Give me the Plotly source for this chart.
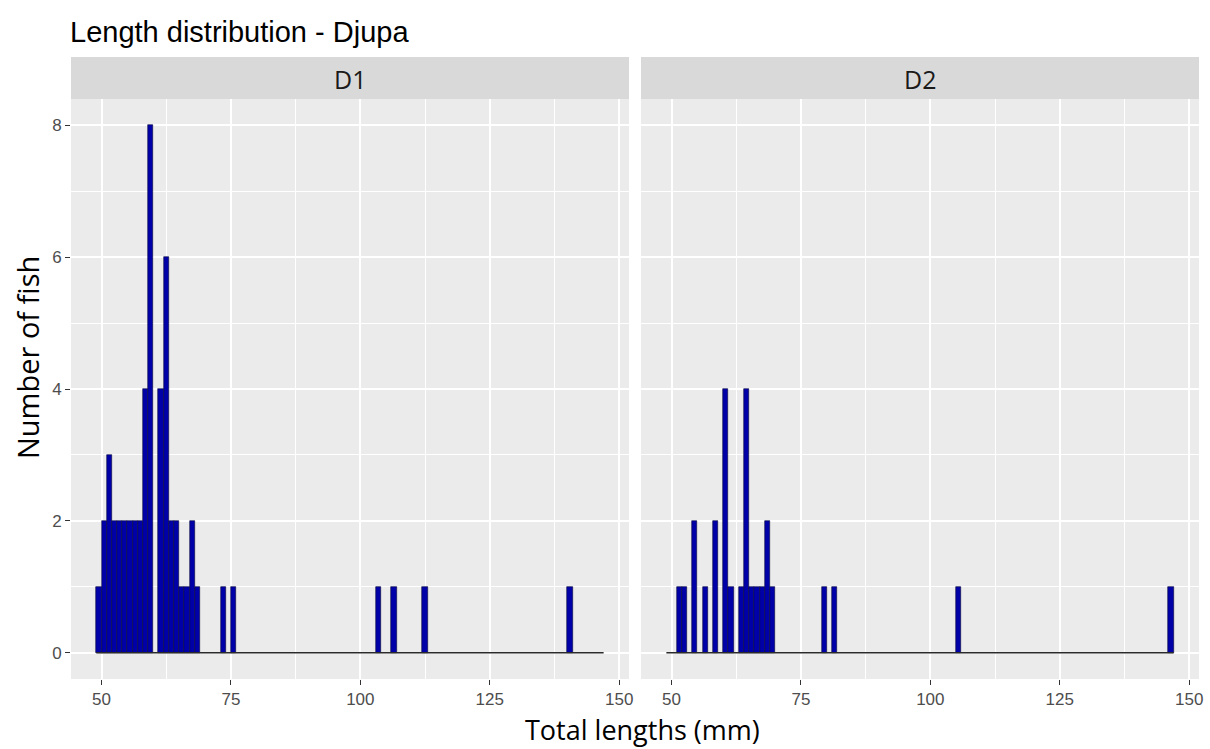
import plotly.graph_objects as go

# ---------------- data (histogram, binwidth 1 mm, bins given by left edge) ----------------
bin_min = 49
bin_max = 147
bin_width = 1

d1_bins = [49, 50, 51, 52, 53, 54, 55, 56, 57, 58, 59, 61, 62, 63, 64, 65, 66, 67, 68,
           73, 75, 103, 106, 112, 140]
d1_counts = [1, 2, 3, 2, 2, 2, 2, 2, 2, 4, 8, 4, 6, 2, 2, 1, 1, 2, 1,
             1, 1, 1, 1, 1, 1]

d2_bins = [51, 52, 54, 56, 58, 60, 61, 63, 64, 65, 66, 67, 68, 69, 79, 81, 105, 146]
d2_counts = [1, 1, 2, 1, 2, 4, 1, 1, 4, 1, 1, 1, 2, 1, 1, 1, 1, 1]

panels = ["D1", "D2"]
x_ticks = [50, 75, 100, 125, 150]
y_ticks = [0, 2, 4, 6, 8]
y_max = 8

title_text = "Length distribution - Djupa"
x_title = "Total lengths (mm)"
y_title = "Number of fish"

# ---------------- styling ----------------
W, H = 1210, 749
BAR_FILL = "#0000a8"
PANEL_BG = "#ebebeb"
STRIP_BG = "#d9d9d9"

# pixel layout
panel_px = [(71, 629), (641, 1199)]
panel_top, panel_bot = 99, 679
strip_top = 57

def px_x(x):
    return x / W

def px_y(y):
    return 1 - y / H

xr = bin_max - bin_min
x_range = [bin_min - 0.05 * xr, bin_max + 0.05 * xr]
y_range = [-0.05 * y_max, y_max * 1.05]

fig = go.Figure()

series = [(d1_bins, d1_counts), (d2_bins, d2_counts)]
for i, (bins, counts) in enumerate(series):
    xa = "x" if i == 0 else "x2"
    ya = "y" if i == 0 else "y2"
    # baseline formed by zero-count bins
    fig.add_trace(go.Scatter(
        x=[bin_min, bin_max], y=[0, 0], mode="lines",
        line=dict(color="#2b2b2b", width=1.5),
        xaxis=xa, yaxis=ya, showlegend=False, hoverinfo="skip"))
    fig.add_trace(go.Bar(
        x=[b + bin_width / 2 for b in bins], y=counts, width=bin_width,
        marker=dict(color=BAR_FILL, line=dict(color="#0a0a3a", width=0.6)),
        xaxis=xa, yaxis=ya, showlegend=False))

tickfont = dict(family="Liberation Sans, Arial", size=17, color="#4d4d4d")

axis_common = dict(
    range=x_range, tickvals=x_ticks, ticktext=[str(t) for t in x_ticks],
    showgrid=True, gridcolor="white", gridwidth=1.7,
    minor=dict(dtick=12.5, tick0=50, showgrid=True, gridcolor="white", gridwidth=0.8, ticks=""),
    zeroline=False, showline=False,
    ticks="outside", ticklen=5, tickwidth=1, tickcolor="#333333",
    tickfont=tickfont,
    automargin=False, fixedrange=True,
)

y_common = dict(
    domain=[px_y(panel_bot), px_y(panel_top)], range=y_range, tickvals=y_ticks,
    showgrid=True, gridcolor="white", gridwidth=1.7,
    minor=dict(dtick=1, tick0=0, showgrid=True, gridcolor="white", gridwidth=0.8, ticks=""),
    zeroline=False, showline=False, automargin=False, fixedrange=True,
)

fig.update_layout(
    width=W, height=H,
    margin=dict(l=0, r=0, t=0, b=0),
    paper_bgcolor="white",
    plot_bgcolor=PANEL_BG,
    bargap=0,
    xaxis=dict(domain=[px_x(panel_px[0][0]), px_x(panel_px[0][1])], anchor="y", **axis_common),
    xaxis2=dict(domain=[px_x(panel_px[1][0]), px_x(panel_px[1][1])], anchor="y2", **axis_common),
    yaxis=dict(ticks="outside", ticklen=5, tickwidth=1, tickcolor="#333333",
               tickfont=tickfont, anchor="x", **y_common),
    yaxis2=dict(showticklabels=False, ticks="", anchor="x2", matches="y", **y_common),
)

shapes = []
annotations = []
for (x0, x1), name in zip(panel_px, panels):
    shapes.append(dict(type="rect", xref="paper", yref="paper",
                       x0=px_x(x0), x1=px_x(x1), y0=px_y(panel_top), y1=px_y(strip_top),
                       fillcolor=STRIP_BG, line=dict(width=0), layer="below"))
    annotations.append(dict(text=name, xref="paper", yref="paper",
                            x=px_x((x0 + x1) / 2), y=px_y((strip_top + panel_top) / 2 + 1),
                            xanchor="center", yanchor="middle", showarrow=False,
                            font=dict(family="Open Sans, Noto Sans", size=25, color="#1a1a1a")))

annotations.append(dict(text=title_text, xref="paper", yref="paper",
                        x=px_x(68), y=px_y(32), xanchor="left", yanchor="middle", showarrow=False,
                        font=dict(family="Liberation Sans, Arial", size=29, color="#000000")))
annotations.append(dict(text=x_title, xref="paper", yref="paper",
                        x=px_x(642), y=px_y(729), xanchor="center", yanchor="middle", showarrow=False,
                        font=dict(family="Open Sans, Noto Sans", size=27, color="#000000")))
annotations.append(dict(text=y_title, xref="paper", yref="paper",
                        x=px_x(28), y=px_y(358), xanchor="center", yanchor="middle", showarrow=False,
                        textangle=-90,
                        font=dict(family="Open Sans, Noto Sans", size=29, color="#000000")))

fig.update_layout(shapes=shapes, annotations=annotations)

fig.write_html("out.html")
